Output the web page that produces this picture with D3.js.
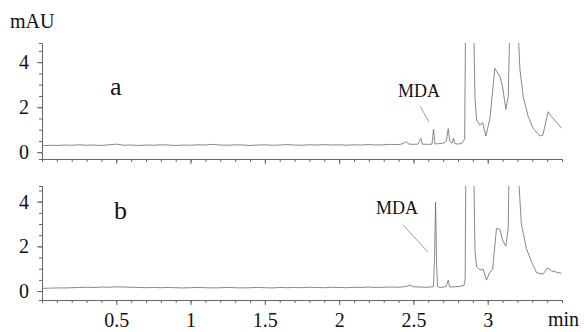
<!DOCTYPE html>
<html>
<head>
<meta charset="utf-8">
<script src="https://cdn.jsdelivr.net/npm/d3@7"></script>
<style>
  body { margin: 0; background: #fff; }
  svg { display: block; }
  text { font-family: "Liberation Serif", "Times New Roman", "DejaVu Serif", serif; fill: #111; }
</style>
</head>
<body>
<div id="chart"></div>
<script>
// chromatogram a (top) : [time min, absorbance mAU]
const traceA = [
  [0, 0.29], [0.05, 0.31], [0.1, 0.30], [0.15, 0.32], [0.2, 0.31], [0.25, 0.33], [0.3, 0.31],
  [0.35, 0.32], [0.4, 0.30], [0.45, 0.33], [0.5, 0.36], [0.55, 0.31], [0.6, 0.32], [0.65, 0.30],
  [0.7, 0.32], [0.75, 0.31], [0.8, 0.33], [0.85, 0.32], [0.9, 0.30], [0.95, 0.32], [1.0, 0.31],
  [1.05, 0.33], [1.1, 0.32], [1.15, 0.35], [1.2, 0.32], [1.25, 0.31], [1.3, 0.33], [1.35, 0.32],
  [1.4, 0.30], [1.45, 0.32], [1.5, 0.33], [1.55, 0.31], [1.6, 0.32], [1.65, 0.34], [1.7, 0.32],
  [1.75, 0.31], [1.8, 0.33], [1.85, 0.32], [1.9, 0.34], [1.95, 0.32], [2.0, 0.33], [2.05, 0.31],
  [2.1, 0.33], [2.15, 0.32], [2.2, 0.34], [2.25, 0.32], [2.3, 0.33], [2.35, 0.35], [2.4, 0.34],
  [2.43, 0.38], [2.45, 0.47], [2.47, 0.36], [2.5, 0.35], [2.53, 0.36], [2.55, 0.62], [2.56, 0.36],
  [2.6, 0.35], [2.625, 0.36], [2.635, 1.02], [2.645, 0.37], [2.67, 0.38], [2.7, 0.40], [2.722, 0.5],
  [2.734, 1.05], [2.745, 0.48], [2.76, 0.40], [2.77, 0.62], [2.78, 0.38], [2.8, 0.36], [2.83, 0.42],
  [2.845, 0.6], [2.853, 8], [2.875, 15], [2.905, 6], [2.914, 2.47], [2.925, 1.43], [2.947, 1.21],
  [2.966, 1.31], [2.988, 0.72], [3.015, 1.51], [3.048, 3.73], [3.082, 3.36], [3.1, 2.91],
  [3.122, 1.91], [3.138, 2.47], [3.15, 6], [3.17, 12], [3.2, 6], [3.217, 3.65], [3.239, 2.47],
  [3.273, 1.58], [3.306, 1.06], [3.351, 0.72], [3.371, 0.76], [3.407, 1.80], [3.43, 1.58],
  [3.497, 1.06]
];

// chromatogram b (bottom)
const traceB = [
  [0, 0.12], [0.05, 0.13], [0.1, 0.14], [0.15, 0.14], [0.2, 0.15], [0.25, 0.16], [0.3, 0.17],
  [0.35, 0.16], [0.4, 0.18], [0.45, 0.17], [0.5, 0.19], [0.55, 0.18], [0.6, 0.17], [0.65, 0.16],
  [0.7, 0.15], [0.75, 0.16], [0.8, 0.15], [0.85, 0.16], [0.9, 0.15], [0.95, 0.14], [1.0, 0.15],
  [1.05, 0.16], [1.1, 0.15], [1.15, 0.14], [1.2, 0.15], [1.25, 0.16], [1.3, 0.15], [1.35, 0.14],
  [1.4, 0.15], [1.45, 0.16], [1.5, 0.15], [1.55, 0.14], [1.6, 0.16], [1.65, 0.15], [1.7, 0.16],
  [1.75, 0.15], [1.8, 0.17], [1.85, 0.16], [1.9, 0.15], [1.95, 0.17], [2.0, 0.16], [2.05, 0.15],
  [2.1, 0.17], [2.15, 0.16], [2.2, 0.18], [2.25, 0.16], [2.3, 0.17], [2.35, 0.18], [2.4, 0.17],
  [2.45, 0.2], [2.477, 0.27], [2.5, 0.19], [2.55, 0.18], [2.6, 0.17], [2.635, 0.2], [2.642, 1.5],
  [2.649, 3.97], [2.656, 1.2], [2.662, 0.2], [2.68, 0.16], [2.72, 0.2], [2.734, 0.49],
  [2.745, 0.18], [2.8, 0.2], [2.84, 0.25], [2.848, 0.5], [2.855, 8], [2.875, 15], [2.905, 6],
  [2.914, 1.83], [2.925, 1.09], [2.947, 0.94], [2.969, 0.97], [2.992, 0.49], [3.015, 0.86],
  [3.033, 0.97], [3.059, 2.8], [3.082, 2.76], [3.1, 2.28], [3.122, 2.01], [3.138, 2.8],
  [3.145, 6], [3.17, 12], [3.2, 6], [3.226, 3.03], [3.26, 1.91], [3.295, 1.31], [3.329, 0.82],
  [3.373, 0.76], [3.403, 1.04], [3.43, 0.9], [3.497, 0.79]
];

const xTickLabels = [0.5, 1, 1.5, 2, 2.5, 3];
const yTickLabels = [0, 2, 4];
const panelLetters = ["a", "b"];
const peakLabel = "MDA";

const serif = '"Liberation Serif", "Times New Roman", serif';
const width = 584, height = 332;
const svg = d3.select("#chart").append("svg")
  .attr("width", width)
  .attr("height", height);

const x = d3.scaleLinear().domain([0, 3.5]).range([42, 562]);

const panels = [
  { data: traceA, letter: panelLetters[0], y: d3.scaleLinear().domain([-0.3, 4.85]).range([159, 43]),
    letterPos: [110, 95], mda: [398, 97], lead: [[420, 106], [429, 122]], labels: false },
  { data: traceB, letter: panelLetters[1], y: d3.scaleLinear().domain([-0.4, 4.7]).range([300, 186]),
    letterPos: [114, 219], mda: [376, 214], lead: [[403, 225], [428, 252]], labels: true }
];

const axisColor = "#666";

function styleAxis(g) {
  g.attr("font-family", null);
  g.selectAll("path.domain").attr("stroke", axisColor).attr("stroke-width", 1);
  g.selectAll(".tick line").attr("stroke", axisColor);
  g.selectAll(".tick text").style("font-family", serif).attr("font-size", 20).attr("fill", "#111");
}

panels.forEach((p, i) => {
  const [y0, y1] = p.y.range();
  const g = svg.append("g");

  // clip to plotting area
  const clipId = "clip" + i;
  svg.append("clipPath").attr("id", clipId)
    .append("rect")
    .attr("x", x.range()[0]).attr("y", y1)
    .attr("width", x.range()[1] - x.range()[0]).attr("height", y0 - y1);

  // minor ticks
  g.append("g")
    .attr("transform", `translate(0,${y0})`)
    .call(d3.axisBottom(x).tickValues(d3.range(0, 3.51, 0.1)).tickSize(3).tickFormat(""))
    .call(styleAxis);
  g.append("g")
    .attr("transform", `translate(${x.range()[0]},0)`)
    .call(d3.axisLeft(p.y).tickValues(d3.range(0, 4.6, 0.5)).tickSize(3).tickFormat(""))
    .call(styleAxis);

  // major ticks
  g.append("g")
    .attr("transform", `translate(0,${y0})`)
    .call(d3.axisBottom(x).tickValues(xTickLabels).tickSize(5).tickPadding(8)
      .tickFormat(p.labels ? d3.format("") : ""))
    .call(styleAxis)
    .call(a => a.select(".domain").remove());
  g.append("g")
    .attr("transform", `translate(${x.range()[0]},0)`)
    .call(d3.axisLeft(p.y).tickValues(yTickLabels).tickSize(5).tickPadding(8).tickFormat(d3.format("d")))
    .call(styleAxis)
    .call(a => a.select(".domain").remove());

  // trace
  const line = d3.line().x(d => x(d[0])).y(d => p.y(d[1]));
  g.append("path")
    .datum(p.data)
    .attr("clip-path", `url(#${clipId})`)
    .attr("fill", "none")
    .attr("stroke", "#6a6a6a")
    .attr("stroke-width", 0.8)
    .attr("stroke-linejoin", "round")
    .attr("d", line);

  // panel letter
  g.append("text")
    .attr("x", p.letterPos[0]).attr("y", p.letterPos[1])
    .attr("font-size", 26)
    .style("font-family", serif)
    .text(p.letter);

  // MDA label and leader line
  g.append("text")
    .attr("x", p.mda[0]).attr("y", p.mda[1])
    .attr("font-size", 18)
    .style("font-family", serif)
    .text(peakLabel);
  g.append("line")
    .attr("x1", p.lead[0][0]).attr("y1", p.lead[0][1])
    .attr("x2", p.lead[1][0]).attr("y2", p.lead[1][1])
    .attr("stroke", "#888")
    .attr("stroke-width", 0.8);
});

svg.append("text")
  .attr("x", 10).attr("y", 28)
  .attr("font-size", 20)
  .style("font-family", serif)
  .text("mAU");

svg.append("text")
  .attr("x", 548).attr("y", 326)
  .attr("font-size", 20)
  .style("font-family", serif)
  .text("min");
</script>
</body>
</html>
